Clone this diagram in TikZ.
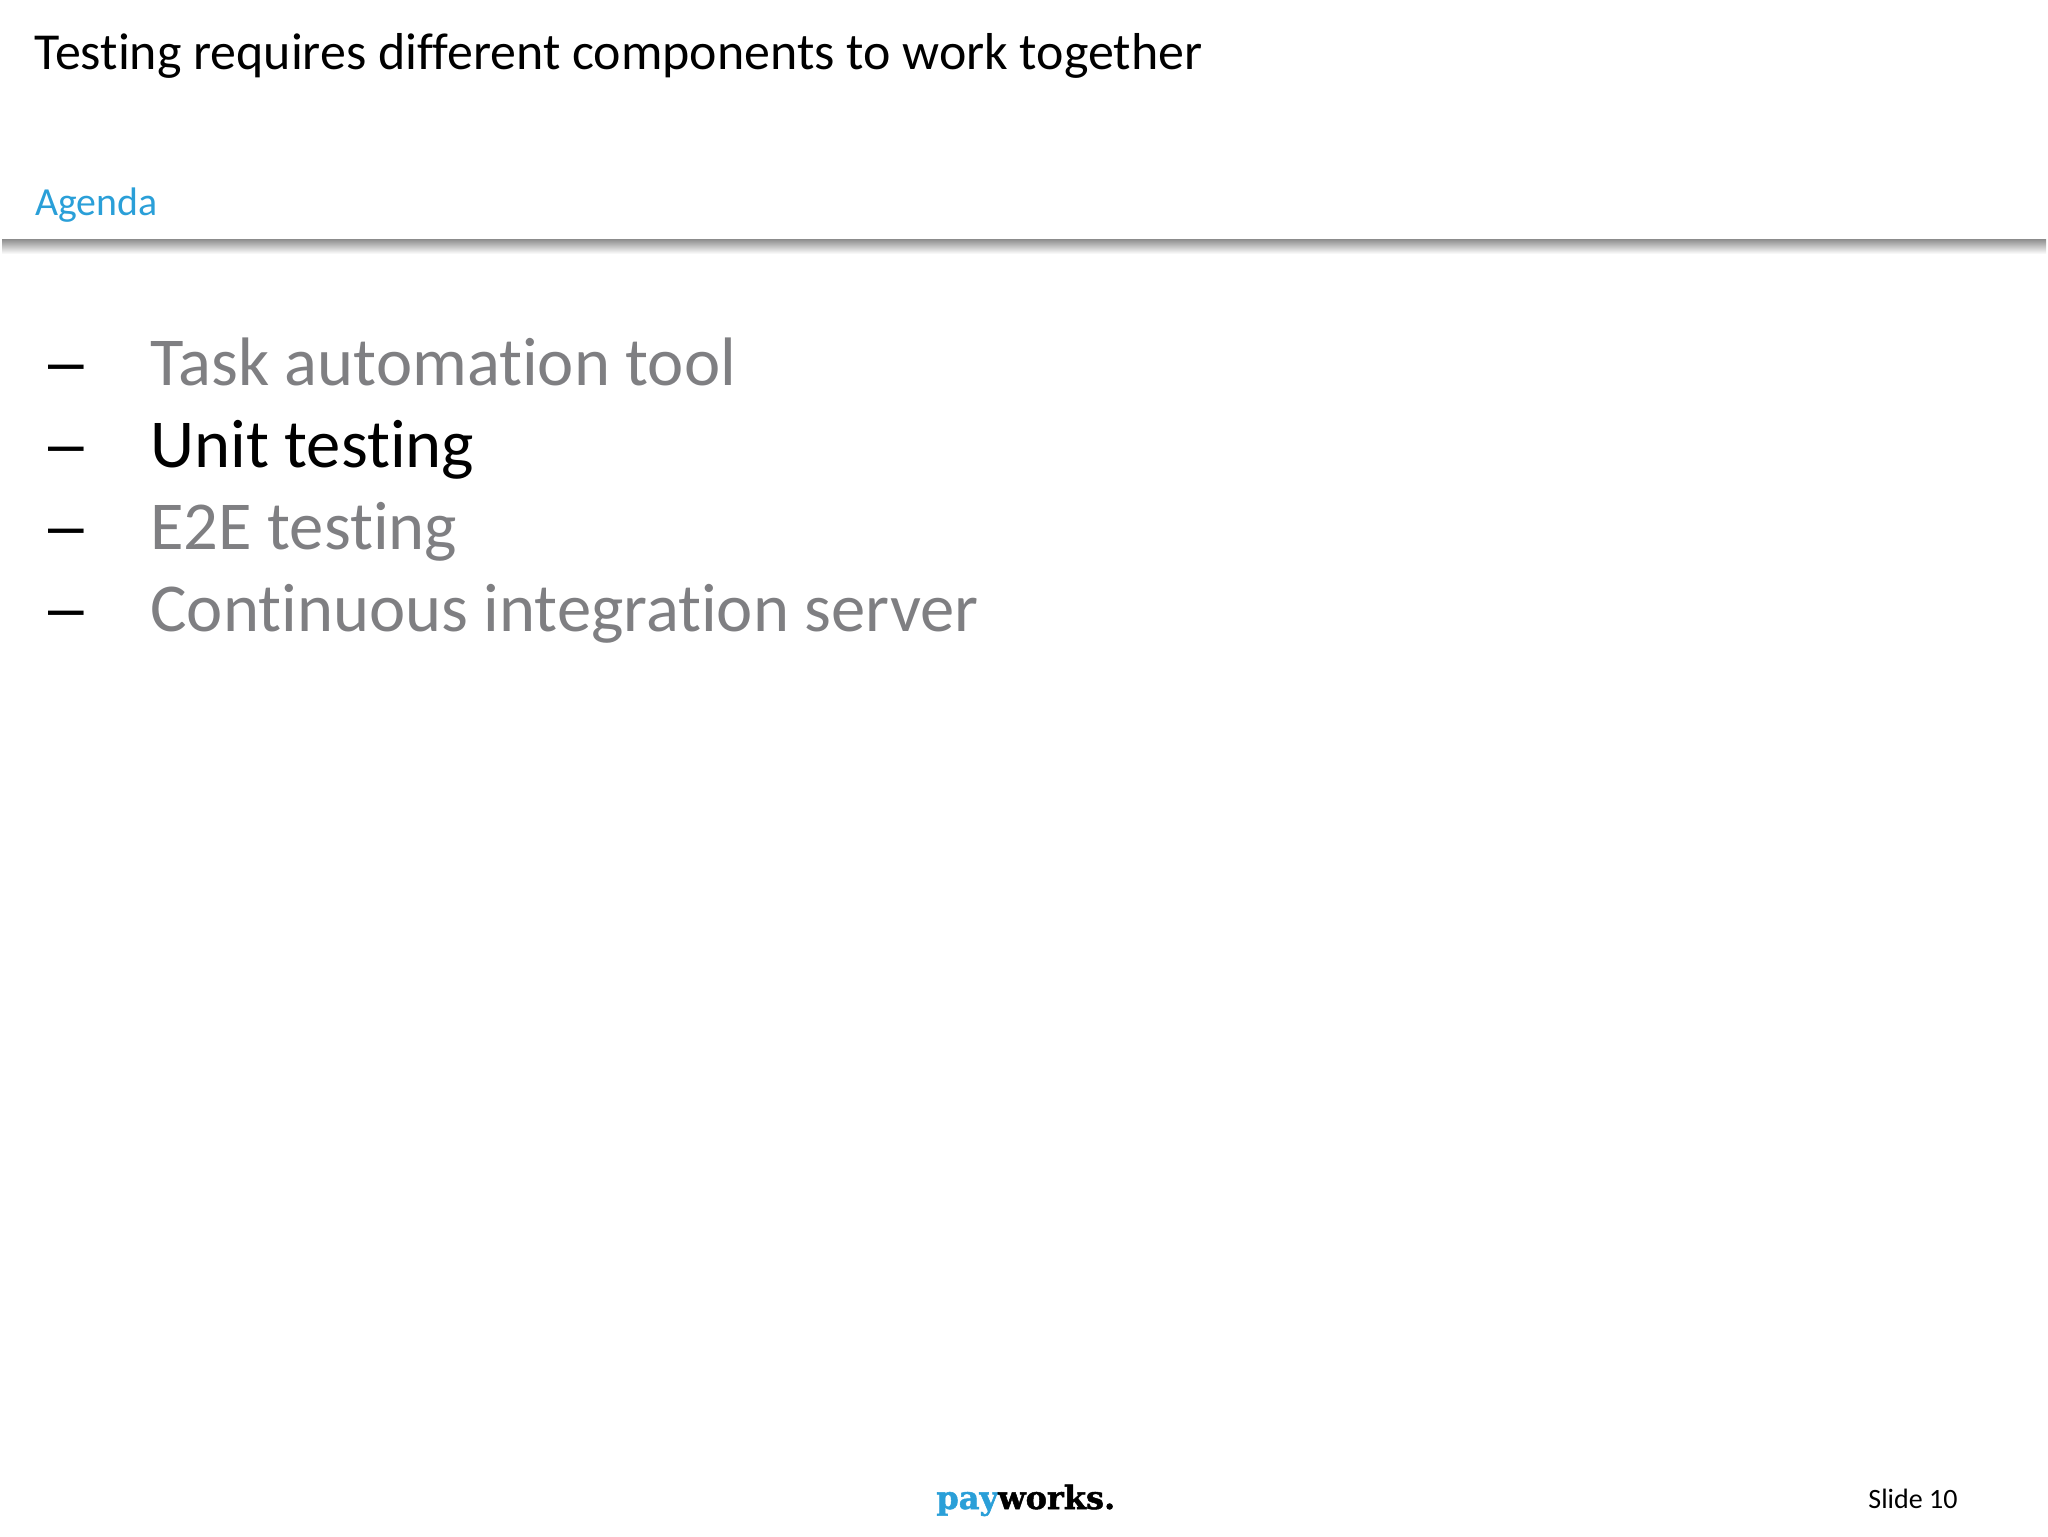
\documentclass[tikz,border=0pt]{standalone}
\usepackage{fontspec}
\setmainfont[Ligatures=NoCommon]{Carlito}
\newfontfamily\logofont[BoldFeatures={FakeBold=1.5}]{DejaVu Serif}
\newfontfamily\dashfont{Liberation Sans}
\usetikzlibrary{positioning}
\definecolor{agendablue}{HTML}{2A9FD8}
\definecolor{itemgray}{HTML}{7F7F82}
\tikzset{
  slidetext/.style={inner sep=0pt,anchor=base west},
  agendaitem/.style={slidetext,font=\fontsize{34.3}{40}\selectfont,text=itemgray},
  agendadash/.style={slidetext,font=\dashfont\fontsize{32}{38}\selectfont}
}

\begin{document}
\begin{tikzpicture}[x=0.5pt,y=-0.5pt]
  \useasboundingbox (0,0) rectangle (2048,1536);
  \node[slidetext,font=\fontsize{25.95}{31}\selectfont] (title) at (34,70) {Testing requires different components to work together};
  \node[slidetext,font=\fontsize{19.9}{24}\selectfont,text=agendablue] (agenda) at (35,215) {Agenda};

  % rule under the header
  \fill[top color=black!45,bottom color=white] (2,239) rectangle (2046,254);

  \node[agendadash] (dash1) at (48,383) {–};
  \node[agendadash] (dash2) at (48,465) {–};
  \node[agendadash] (dash3) at (48,547) {–};
  \node[agendadash] (dash4) at (48,629) {–};

  \node[agendaitem] (item1) at (150,385) {Task automation tool};
  \node[agendaitem,text=black] (item2) at (150,467) {Unit testing};
  \node[agendaitem] (item3) at (150,549) {E2E testing};
  \node[agendaitem] (item4) at (150,631) {Continuous integration server};

  \node[slidetext,font=\logofont\bfseries\fontsize{16}{19}\selectfont] (logo) at (936,1509) {\textcolor{agendablue}{pay}works.};
  \node[slidetext,font=\fontsize{14}{17}\selectfont] (slidenum) at (1868,1508) {Slide 10};
\end{tikzpicture}
\end{document}
